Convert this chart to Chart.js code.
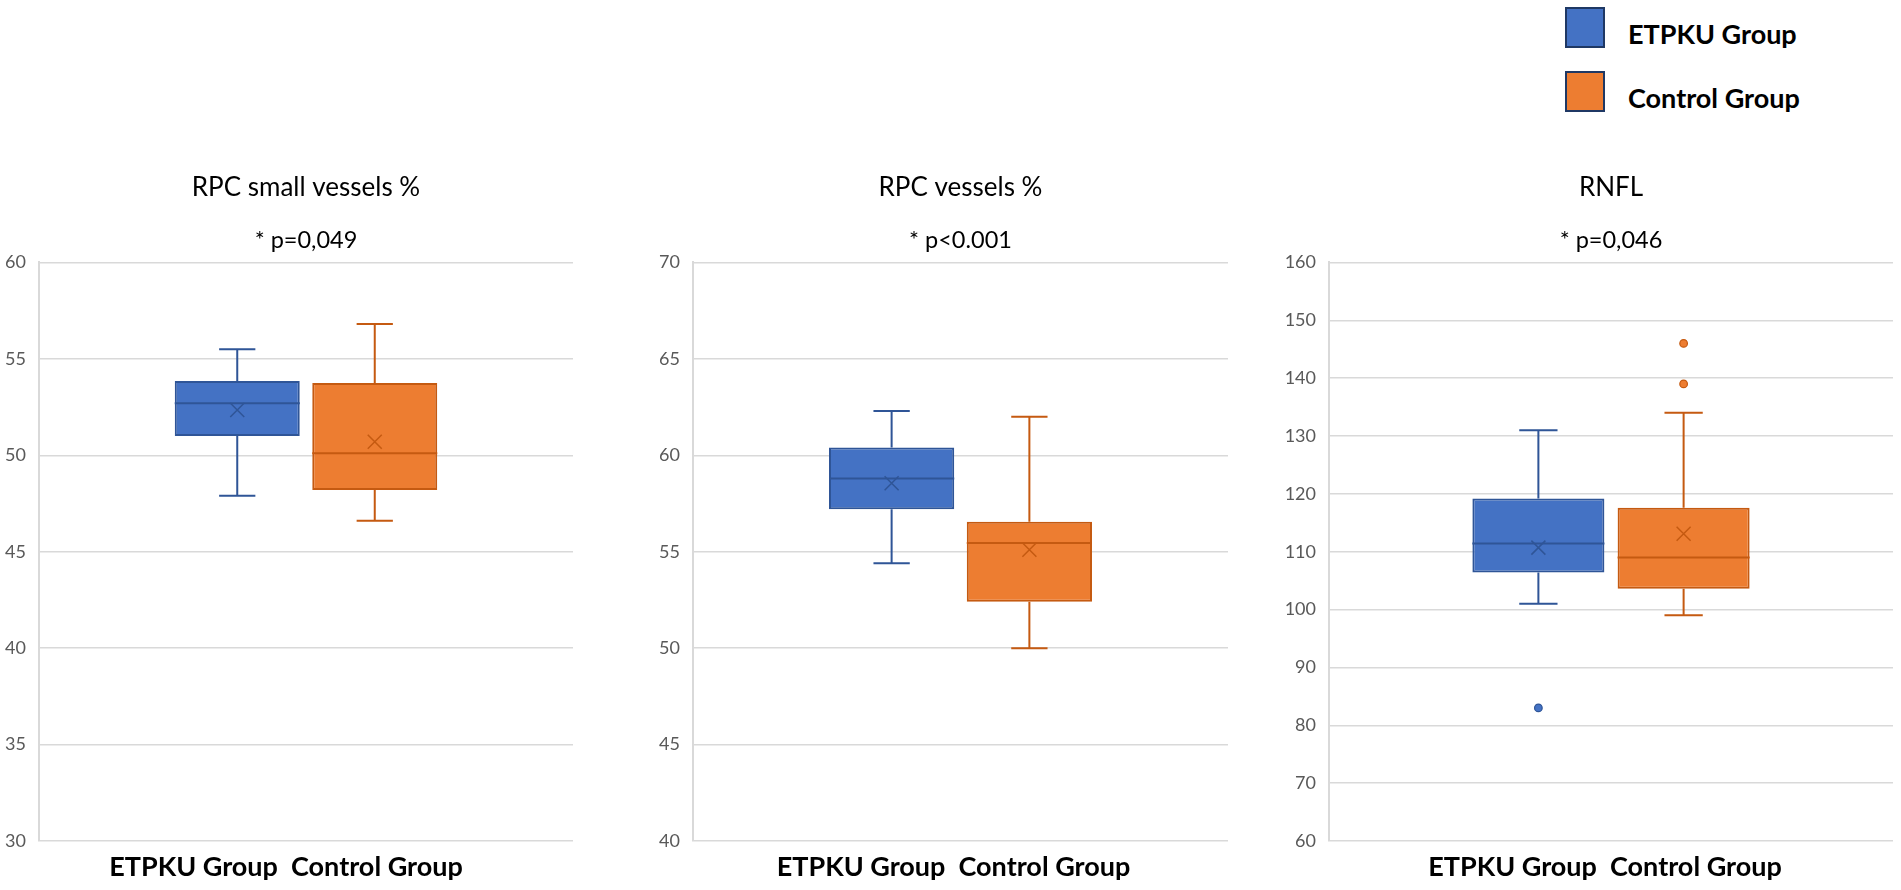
<!DOCTYPE html>
<html>
<head>
<meta charset="utf-8">
<script src="https://cdn.jsdelivr.net/npm/chart.js@4.4.1/dist/chart.umd.min.js"></script>
<style>
  html, body { margin: 0; padding: 0; background: #fff; }
  body { width: 1901px; height: 890px; position: relative; overflow: hidden; font-family: Lato, sans-serif; }
  .panel { position: absolute; top: 150px; }
  #legend { position: absolute; left: 1565px; top: 7px; }
  .item { position: absolute; left: 0; width: 330px; height: 50px; }
  .swatch { position: absolute; left: 0; top: 0; width: 36px; height: 37px; border: 2px solid #1F3864; }
  .name { position: absolute; left: 63px; top: 7px; line-height: 40px; font-size: 27px; font-weight: bold; color: #000; white-space: nowrap; }
</style>
</head>
<body>
<div id="legend"></div>
<canvas id="rpc-small" class="panel" width="600" height="740" style="left:0px"></canvas>
<canvas id="rpc" class="panel" width="630" height="740" style="left:630px"></canvas>
<canvas id="rnfl" class="panel" width="641" height="740" style="left:1260px"></canvas>
<script>
// groups and panel texts
var groups = ['ETPKU Group', 'Control Group'];
var titles = ['RPC small vessels %', 'RPC vessels %', 'RNFL'];
var pValues = ['* p=0,049', '* p<0.001', '* p=0,046'];

// y axis ranges per panel
var yMin = [30, 40, 60];
var yMax = [60, 70, 160];
var yStep = [5, 5, 10];

// box stats: [min whisker, Q1, median, Q3, max whisker]
var smallVesselsEtpku = [47.9, 51.0, 52.7, 53.85, 55.5];
var smallVesselsControl = [46.6, 48.2, 50.1, 53.75, 56.8];
var smallVesselsMeans = [52.35, 50.7];

var vesselsEtpku = [54.4, 57.2, 58.8, 60.4, 62.3];
var vesselsControl = [50.0, 52.4, 55.45, 56.55, 62.0];
var vesselsMeans = [58.55, 55.1];

var rnflEtpku = [101, 106.4, 111.4, 119.2, 131];
var rnflControl = [99, 103.6, 109, 117.6, 134];
var rnflMeans = [110.7, 113.1];
var rnflOutliersEtpku = [83];
var rnflOutliersControl = [139, 146];

var fills = ['#4472C4', '#ED7D31'];
var edges = ['#2F5597', '#C55A11'];

// whiskers, median, mean cross and outliers on top of the floating bars
var boxExtras = {
    id: 'boxExtras',
    afterDatasetsDraw: function (chart) {
        var ctx = chart.ctx;
        var y = chart.scales.y;
        chart.data.datasets.forEach(function (ds, i) {
            var bar = chart.getDatasetMeta(i).data[0];
            var cx = bar.x;
            var half = bar.width / 2;
            var cap = bar.width * 0.145;
            var s = ds.stats;
            var pLo = y.getPixelForValue(s[0]);
            var pQ1 = y.getPixelForValue(s[1]);
            var pMed = y.getPixelForValue(s[2]);
            var pQ3 = y.getPixelForValue(s[3]);
            var pHi = y.getPixelForValue(s[4]);
            ctx.save();
            ctx.strokeStyle = ds.borderColor;
            ctx.lineWidth = 2;
            ctx.beginPath();
            ctx.moveTo(cx, pQ3); ctx.lineTo(cx, pHi);
            ctx.moveTo(cx - cap, pHi); ctx.lineTo(cx + cap, pHi);
            ctx.moveTo(cx, pQ1); ctx.lineTo(cx, pLo);
            ctx.moveTo(cx - cap, pLo); ctx.lineTo(cx + cap, pLo);
            ctx.moveTo(cx - half, pMed); ctx.lineTo(cx + half, pMed);
            ctx.stroke();

            var my = y.getPixelForValue(ds.mean);
            ctx.lineWidth = 1.5;
            ctx.beginPath();
            ctx.moveTo(cx - 7, my - 7); ctx.lineTo(cx + 7, my + 7);
            ctx.moveTo(cx + 7, my - 7); ctx.lineTo(cx - 7, my + 7);
            ctx.stroke();

            ctx.fillStyle = ds.backgroundColor;
            ds.outliers.forEach(function (v) {
                ctx.beginPath();
                ctx.arc(cx, y.getPixelForValue(v), 3.8, 0, Math.PI * 2);
                ctx.fill();
                ctx.lineWidth = 1.2;
                ctx.stroke();
            });
            ctx.restore();
        });
    }
};

function makePanel(id, n, etpku, control, means, outliers, yWidth, padRight, labelShift) {
    var ctx = document.getElementById(id).getContext('2d');
    return new Chart(ctx, {
        type: 'bar',
        data: {
            labels: [groups.join('  ')],
            datasets: [0, 1].map(function (g) {
                return {
                    label: groups[g],
                    data: [[(g ? control : etpku)[1], (g ? control : etpku)[3]]],
                    backgroundColor: fills[g],
                    borderColor: edges[g],
                    borderWidth: 2,
                    borderSkipped: false,
                    stats: g ? control : etpku,
                    mean: means[g],
                    outliers: outliers[g]
                };
            })
        },
        options: {
            responsive: false,
            animation: false,
            layout: { padding: { right: padRight } },
            datasets: { bar: { categoryPercentage: 0.515, barPercentage: 0.909 } },
            plugins: {
                legend: { display: false },
                tooltip: { enabled: false },
                title: {
                    display: true, text: titles[n], fullSize: false, color: '#000',
                    font: { family: 'Lato', size: 26, weight: 'normal' },
                    padding: { top: 22, bottom: 0 }
                },
                subtitle: {
                    display: true, text: pValues[n], fullSize: false, color: '#000',
                    font: { family: 'Lato', size: 23.5, weight: 'normal' },
                    padding: { top: 23, bottom: 8 }
                }
            },
            scales: {
                x: {
                    grid: { display: false, drawTicks: false },
                    border: { display: false },
                    ticks: {
                        color: '#000', maxRotation: 0, padding: 10, labelOffset: labelShift,
                        font: { family: 'Lato', size: 27, weight: 'bold' }
                    },
                    afterFit: function (s) { s.height = 49; }
                },
                y: {
                    min: yMin[n], max: yMax[n],
                    ticks: { stepSize: yStep[n], padding: 13, color: '#595959', font: { family: 'Lato', size: 18 } },
                    grid: { color: '#D9D9D9', lineWidth: 1.5, drawTicks: false },
                    border: { display: true, color: '#D9D9D9', width: 2 },
                    afterFit: function (s) { s.width = yWidth; }
                }
            }
        },
        plugins: [boxExtras]
    });
}

makePanel('rpc-small', 0, smallVesselsEtpku, smallVesselsControl, smallVesselsMeans, [[], []], 39, 27, -20);
makePanel('rpc', 1, vesselsEtpku, vesselsControl, vesselsMeans, [[], []], 63, 32, -7);
makePanel('rnfl', 2, rnflEtpku, rnflControl, rnflMeans, [rnflOutliersEtpku, rnflOutliersControl], 69, 8, -6);

// legend
var legend = document.getElementById('legend');
groups.forEach(function (name, i) {
    var item = document.createElement('div');
    item.className = 'item';
    item.style.top = (i * 64) + 'px';
    item.innerHTML = '<span class="swatch" style="background:' + fills[i] + '"></span><span class="name"></span>';
    item.querySelector('.name').textContent = name;
    legend.appendChild(item);
});
</script>
</body>
</html>
